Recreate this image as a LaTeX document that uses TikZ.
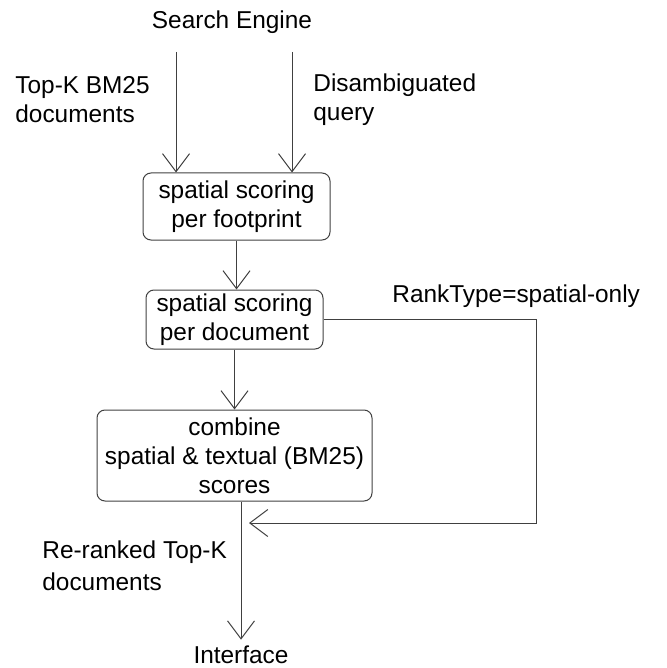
\documentclass[tikz,border=0pt]{standalone}
\usepackage{fontspec}
\setmainfont{Liberation Sans}
\usetikzlibrary{arrows.meta}
\definecolor{flink}{HTML}{404040}

\begin{document}
\begin{tikzpicture}[
  x=0.5pt, y=-0.5pt,
  font=\fontsize{12.2}{14.4}\selectfont,
  proc/.style  = {rectangle, rounded corners=4pt, draw=flink, line width=0.5pt,
                  align=center, inner sep=0pt},
  lbl/.style   = {inner sep=0pt, align=left},
  flow/.style  = {-{Straight Barb[length=9pt,width=13.5pt]}, draw=flink, line width=0.5pt},
]
\useasboundingbox (0,0) rectangle (666,668);
\node (search) at (232,22) {Search Engine};
\node[lbl, anchor=west] (topk) at (15,99.5) {Top-K BM25\\documents};
\node[lbl, anchor=west] (disamb) at (313,99.5) {Disambiguated\\query};
\node[proc, minimum width=93.5pt, minimum height=33.5pt] (foot) at (236.5,206.5)
  {spatial scoring\\per footprint};
\node[proc, minimum width=88.5pt, minimum height=29.5pt] (doc) at (234.5,319.5)
  {spatial scoring\\per document};
\node[lbl, anchor=west] (ranktype) at (392,296) {RankType=spatial-only};
\node[proc, minimum width=137.5pt, minimum height=45.5pt] (comb) at (234.5,455.5)
  {combine\\spatial \& textual (BM25)\\scores};
\node[lbl, anchor=west, font=\fontsize{12.2}{16}\selectfont] (rerank) at (42,566)
  {Re-ranked Top-K\\documents};
\node[inner sep=3pt] (iface) at (241,655) {Interface};
\coordinate (inL) at (176,52);
\coordinate (inR) at (292,52);
\coordinate (fbturn) at (536,523);
\coordinate (fbend) at (249,523);
% inputs from the search engine
\draw[flow] (inL) -- (inL |- foot.north);
\draw[flow] (inR) -- (inR |- foot.north);
\draw[flow] (foot.south) -- (foot.south |- doc.north);
\draw[flow] (doc.south) -- (doc.south |- comb.north);
% spatial-only bypass
\draw[flow] (doc.east) -| (fbturn) -- (fbend);
\draw[flow] (comb.south -| iface) -- (iface.north);
\end{tikzpicture}
\end{document}
